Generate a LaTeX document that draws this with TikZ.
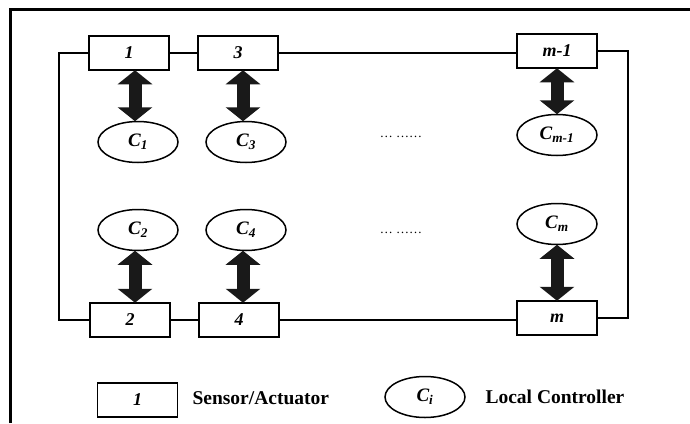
\documentclass[tikz,border=0pt]{standalone}
\usepackage{fontspec}
\setmainfont{Liberation Serif}
\usetikzlibrary{shapes, positioning, arrows.meta}

\begin{document}
\begin{tikzpicture}[
    x=1pt, y=-1pt,
    unit/.style={draw, rectangle, line width=1.5pt, minimum width=80pt, minimum height=34pt, inner sep=0pt, font=\fontsize{18}{18}\selectfont\bfseries\itshape},
    ctrl/.style={draw, ellipse, line width=1.5pt, minimum width=80pt, minimum height=41pt, inner sep=0pt, font=\fontsize{19}{19}\selectfont\bfseries\itshape},
    link/.style={line width=1.4pt},
    dblarrow/.style={line width=13pt, black!90, {Triangle[width=34pt, length=14pt]}-{Triangle[width=34pt, length=14pt]}, shorten <=-0.5pt, shorten >=-0.5pt},
    legend/.style={anchor=west, font=\fontsize{19.5}{20}\selectfont\bfseries},
    dots/.style={font=\fontsize{13}{13}\selectfont}
]
\useasboundingbox (0,0) rectangle (690,423);

% -------------------------
% Outer frame (only top and left edges visible)
% -------------------------
\draw[line width=3pt] (10,423) -- (10,9.5) -- (690,9.5);

% -------------------------
% Sensor/Actuator units
% -------------------------
\node[unit] (U1) at (129, 53) {1};
\node[unit] (U3) at (238, 53) {3};
\node[unit] (Um1) at (557, 51) {m-1};
\node[unit] (U2) at (130, 320) {2};
\node[unit] (U4) at (239, 320) {4};
\node[unit] (Um) at (557, 318) {m};

% -------------------------
% Local controllers
% -------------------------
\node[ctrl] (C1) at (138, 142) {C\textsubscript{1}};
\node[ctrl] (C3) at (246, 142) {C\textsubscript{3}};
\node[ctrl] (Cm1) at (557, 135) {C\textsubscript{m-1}};
\node[ctrl] (C2) at (138, 230) {C\textsubscript{2}};
\node[ctrl] (C4) at (246, 230) {C\textsubscript{4}};
\node[ctrl] (Cm) at (557, 224) {C\textsubscript{m}};

\node[dots] (Dtop) at (401, 137) {\dots\ \dots\dots};
\node[dots] (Dbot) at (401, 233) {\dots\ \dots\dots};

% -------------------------
% Ring connecting the units
% -------------------------
\coordinate (TL) at (59, 0);
\coordinate (TR) at (628, 0);
\draw[link] (U1.west) -- (U1.west -| TL) -- (U2.west -| TL) -- (U2.west);
\draw[link] (U1) -- (U3);
\draw[link] (U3.east) -- (U3.east -| Um1.west);
\draw[link] (U2) -- (U4);
\draw[link] (U4.east) -- (U4.east -| Um.west);
\draw[link] (Um1.east) -- (Um1.east -| TR) -- (Um.east -| TR) -- (Um.east);

% -------------------------
% Unit <-> controller exchange
% -------------------------
\draw[dblarrow] (U1.south -| 135,0) -- (C1.north -| 135,0);
\draw[dblarrow] (U3.south -| 243,0) -- (C3.north -| 243,0);
\draw[dblarrow] (Um1.south) -- (Cm1.north);
\draw[dblarrow] (C2.south -| 135,0) -- (U2.north -| 135,0);
\draw[dblarrow] (C4.south -| 243,0) -- (U4.north -| 243,0);
\draw[dblarrow] (Cm.south) -- (Um.north);

% -------------------------
% Legend
% -------------------------
\node[unit] (LU) at (137.5, 400) {1};
\node[legend] (LUtext) at (189, 398) {Sensor/Actuator};
\node[ctrl] (LC) at (425, 397) {C\textsubscript{i}};
\node[legend] (LCtext) at (482, 397) {Local Controller};

\end{tikzpicture}
\end{document}
